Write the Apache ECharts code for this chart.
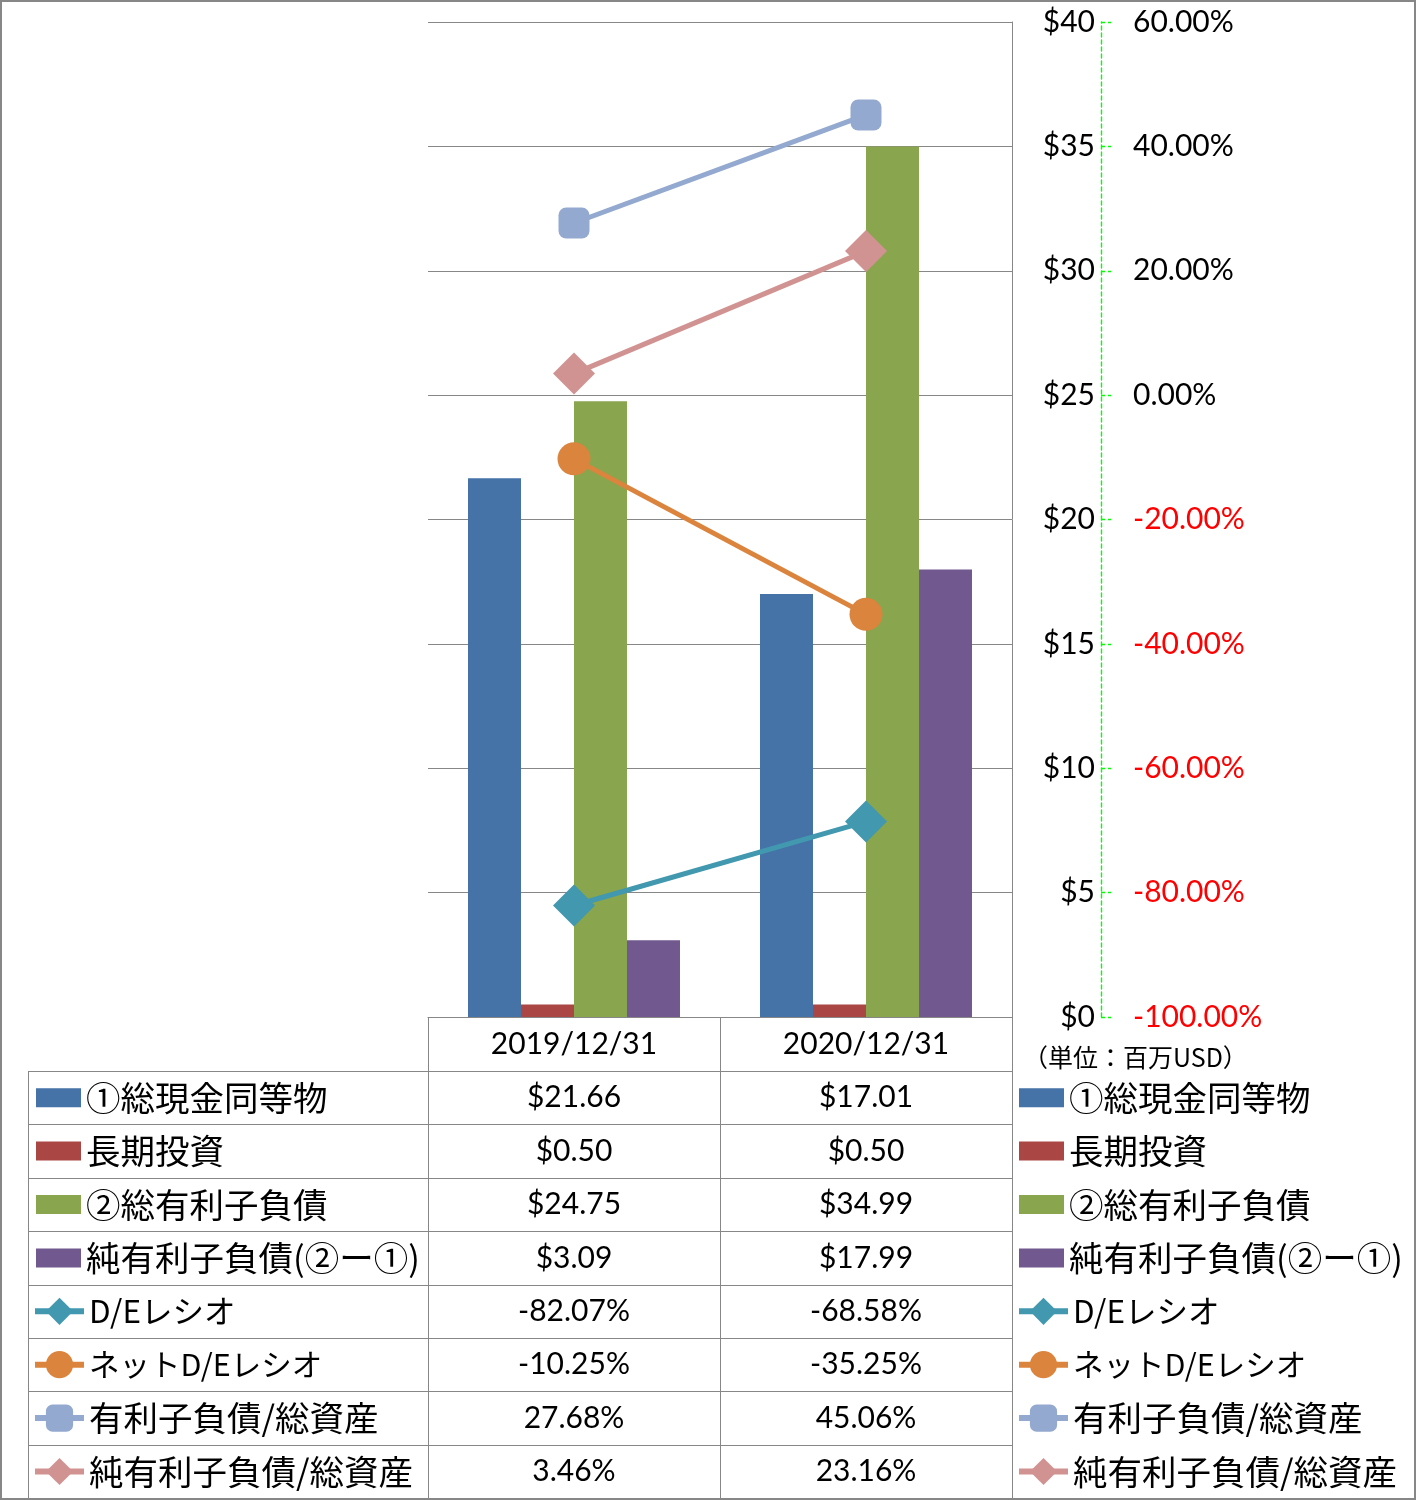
<!DOCTYPE html>
<html><head><meta charset="utf-8">
<script src="https://cdn.jsdelivr.net/npm/echarts@6/dist/echarts.min.js"></script>
<style>html,body{margin:0;padding:0;background:#fff}#c{width:1416px;height:1500px}</style>
</head><body><div id="c"></div>
<script>
// ---- data ----
const categories = ['2019/12/31', '2020/12/31'];
const barNames = ['①総現金同等物', '長期投資', '②総有利子負債', '純有利子負債(②ー①)'];
const cashEquivalents = [21.66, 17.01];
const longTermInvest = [0.50, 0.50];
const totalDebt = [24.75, 34.99];
const netDebt = [3.09, 17.99];
const lineNames = ['D/Eレシオ', 'ネットD/Eレシオ', '有利子負債/総資産', '純有利子負債/総資産'];
const deRatio = [-82.07, -68.58];
const netDeRatio = [-10.25, -35.25];
const debtToAssets = [27.68, 45.06];
const netDebtToAssets = [3.46, 23.16];
const dollarAxis = { min: 0, max: 40, interval: 5 };
const pctAxis = { min: -100, max: 60, interval: 20 };
const unitNote = '（単位：百万USD）';

// ---- style / layout ----
const barColors = ['#4572A7', '#AA4643', '#89A54E', '#71588F'];
const lineColors = ['#4198AF', '#DB843D', '#93A9CF', '#D19392'];
const lineSymbols = [['diamond', 42], ['circle', 33], ['roundRect', 31], ['diamond', 42]];
const legendFontSizes = [34.5, 34.5, 34.5, 34.5, 31.5, 30.5, 34.5, 34.5];
const GRID_L = 428, GRID_R = 1012, GRID_T = 22, GRID_B = 1017;
const W = 1416, H = 1500;
const TABLE_TOP = 1071, ROW_H = 53.4, TABLE_LEFT = 28;
const GRAY = '#878787';
const NUM_FONT = 'Lato';
const NUM_SIZE = 30;
const JP_FONT = "'Noto Sans CJK JP'";

const barData = [cashEquivalents, longTermInvest, totalDebt, netDebt];
const lineData = [deRatio, netDeRatio, debtToAssets, netDebtToAssets];

const chart = echarts.init(document.getElementById('c'), null, { renderer: 'canvas' });

const series = [];
barData.forEach((d, i) => series.push({
  name: barNames[i], type: 'bar', data: d, xAxisIndex: 0, yAxisIndex: 0,
  barGap: 0, barCategoryGap: '27.4%',
  itemStyle: { color: barColors[i] }, z: 2
}));
lineData.forEach((d, i) => series.push({
  name: lineNames[i], type: 'line', data: d, xAxisIndex: 0, yAxisIndex: 1,
  symbol: lineSymbols[i][0], symbolSize: lineSymbols[i][1],
  lineStyle: { color: lineColors[i], width: 5 },
  itemStyle: { color: lineColors[i] }, z: 4
}));

const allNames = barNames.concat(lineNames);
const legends = [];
allNames.forEach((n, i) => {
  const isBar = i < 4;
  const center = TABLE_TOP + ROW_H * (i + 0.5);
  [isBar ? 36 : 32, isBar ? 1019 : 1016].forEach(lx => {
    legends.push({
      data: [n], left: lx, top: center - 21, padding: 0, orient: 'horizontal',
      selectedMode: false,
      icon: isBar ? 'rect' : undefined,
      itemWidth: isBar ? 45 : 49, itemHeight: isBar ? 19 : 34,
      lineStyle: { width: 6 },
      textStyle: { fontSize: legendFontSizes[i], fontFamily: JP_FONT, color: '#000', lineHeight: 42 }
    });
  });
});

const option = {
  animation: false,
  backgroundColor: '#fff',
  grid: { left: GRID_L, right: W - GRID_R, top: GRID_T, bottom: H - GRID_B, containLabel: false },
  legend: legends,
  xAxis: [{
    type: 'category', data: categories, boundaryGap: true,
    axisLine: { show: true, lineStyle: { color: GRAY, width: 1 } },
    axisTick: { show: true, length: TABLE_TOP - GRID_B, lineStyle: { color: GRAY, width: 1 } },
    axisLabel: { fontSize: NUM_SIZE, fontFamily: NUM_FONT, color: '#000', margin: 11, lineHeight: 32 },
    splitLine: { show: false }
  }],
  yAxis: [{
    type: 'value', min: dollarAxis.min, max: dollarAxis.max, interval: dollarAxis.interval,
    position: 'right', offset: 89,
    axisLine: { show: true, lineStyle: { color: '#00FF00', type: [4, 3], width: 1.4 } },
    axisTick: { show: true, length: 10, lineStyle: { color: '#00FF00', type: [4, 3], width: 1.4 } },
    axisLabel: { inside: true, margin: 6, formatter: v => '$' + v, fontSize: NUM_SIZE, fontFamily: NUM_FONT, color: '#000' },
    splitLine: { show: true, lineStyle: { color: GRAY, width: 1 } }
  }, {
    type: 'value', min: pctAxis.min, max: pctAxis.max, interval: pctAxis.interval,
    position: 'right', offset: 89,
    axisLine: { show: false }, axisTick: { show: false }, splitLine: { show: false },
    axisLabel: {
      margin: 32, fontSize: NUM_SIZE, fontFamily: NUM_FONT, align: 'left',
      formatter: v => (Math.abs(v) < 1e-9 ? 0 : v).toFixed(2) + '%',
      color: v => (Number(v) < -1e-9 ? '#FF0000' : '#000')
    }
  }, {
    type: 'value', min: 0, max: 1, position: 'right', offset: 0,
    axisLine: { show: true, lineStyle: { color: GRAY, width: 1 } },
    axisTick: { show: false }, axisLabel: { show: false }, splitLine: { show: false }
  }],
  series: series
};
chart.setOption(option);

// ---- data table (built from the arrays, positioned via the category axis) ----
const colX = categories.map(c => chart.convertToPixel({ xAxisIndex: 0 }, c));
const g = [];
g.push({ type: 'rect', shape: { x: 1, y: 1, width: W - 2, height: H - 2 }, style: { fill: 'none', stroke: GRAY, lineWidth: 2 }, silent: true, z: 10 });
for (let k = 0; k < 8; k++) {
  const y = Math.round(TABLE_TOP + ROW_H * k) + 0.5;
  g.push({ type: 'line', shape: { x1: TABLE_LEFT, y1: y, x2: GRID_R, y2: y }, style: { stroke: GRAY, lineWidth: 1 }, silent: true });
}
[TABLE_LEFT, GRID_L, (GRID_L + GRID_R) / 2, GRID_R].forEach(x => {
  const xx = Math.round(x) + 0.5;
  g.push({ type: 'line', shape: { x1: xx, y1: TABLE_TOP, x2: xx, y2: H }, style: { stroke: GRAY, lineWidth: 1 }, silent: true });
});
const fmtD = v => '$' + v.toFixed(2);
const fmtP = v => v.toFixed(2) + '%';
barData.concat(lineData).forEach((arr, r) => {
  const cy = TABLE_TOP + ROW_H * (r + 0.5);
  arr.forEach((v, j) => {
    g.push({ type: 'text', x: colX[j], y: cy, style: { text: r < 4 ? fmtD(v) : fmtP(v), fontSize: NUM_SIZE, fontFamily: NUM_FONT, fill: '#000', align: 'center', verticalAlign: 'middle' }, silent: true });
  });
});
g.push({ type: 'text', x: 1023, y: 1057, style: { text: unitNote, fontSize: 25, fontFamily: JP_FONT, fill: '#000', align: 'left', verticalAlign: 'middle' }, silent: true });
chart.setOption({ graphic: g });
</script>
</body></html>
